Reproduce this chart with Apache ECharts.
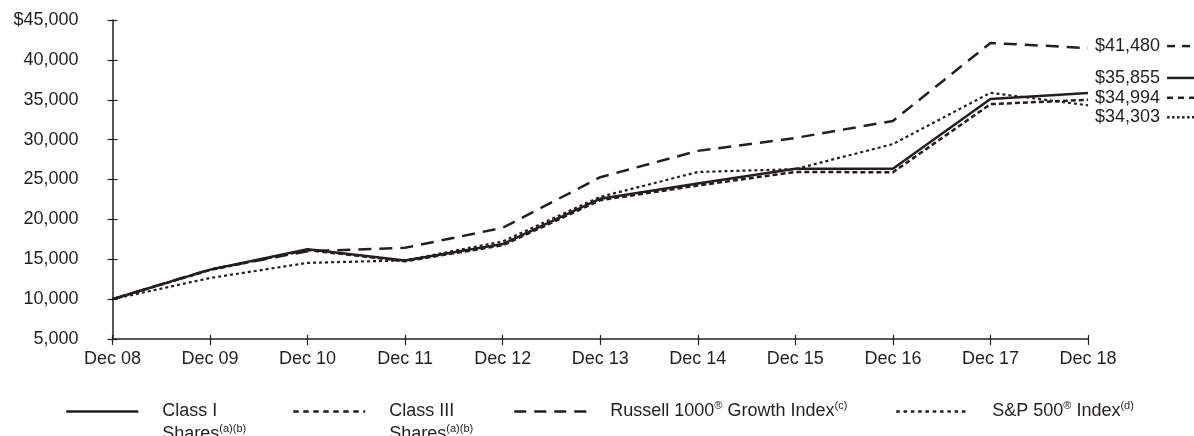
<!DOCTYPE html>
<html>
<head>
<meta charset="utf-8">
<script src="https://cdn.jsdelivr.net/npm/echarts@6/dist/echarts.min.js"></script>
<style>
  html, body { margin: 0; padding: 0; background: #fff; }
  #chart { width: 1194px; height: 436px; }
</style>
</head>
<body>
<div id="chart"></div>
<script>
var categories = ['Dec 08', 'Dec 09', 'Dec 10', 'Dec 11', 'Dec 12', 'Dec 13', 'Dec 14', 'Dec 15', 'Dec 16', 'Dec 17', 'Dec 18'];
var classI = [10000, 13700, 16250, 14850, 16900, 22600, 24500, 26350, 26350, 35100, 35855];
var classIII = [10000, 13650, 16150, 14750, 16750, 22400, 24250, 25950, 25900, 34450, 34994];
var russell = [10000, 13721, 16014, 16437, 18945, 25288, 28588, 30209, 32348, 42120, 41480];
var sp500 = [10000, 12646, 14550, 14857, 17235, 22818, 25941, 26299, 29444, 35872, 34303];
var yTicks = [5000, 10000, 15000, 20000, 25000, 30000, 35000, 40000, 45000];
var seriesNames = ['Class I Shares', 'Class III Shares', 'Russell 1000 Growth Index', 'S&P 500 Index'];

var INK = '#231f20';
var FONT = "'Liberation Sans', Arial, sans-serif";

function fmtMoney(v) {
  return '$' + v.toLocaleString('en-US');
}
function pattern(dash, gap, count) {
  var s = '';
  for (var i = 0; i < count; i++) {
    s += '{' + dash + '|}';
    if (i < count - 1) s += '{' + gap + '|}';
  }
  return s;
}
var endRich = {
  t: { fontSize: 18, fontFamily: FONT, color: INK },
  s: { width: 7, height: 2 },
  bar: { width: 27, height: 2.5, backgroundColor: INK },
  ld: { width: 8, height: 2.5, backgroundColor: INK },
  lg: { width: 7, height: 2.5 },
  sd: { width: 6, height: 2.5, backgroundColor: INK },
  sg: { width: 5, height: 2.5 },
  dd: { width: 2.5, height: 2.5, backgroundColor: INK },
  dg: { width: 2.5, height: 2.5 }
};
function endLabel(last, pat, dy) {
  return {
    show: true,
    distance: 7,
    offset: [0, dy],
    formatter: '{t|' + fmtMoney(last) + '}{s|}' + pat,
    rich: endRich
  };
}

var legendRich = {
  sup: { fontSize: 11, fontFamily: FONT, color: INK, verticalAlign: 'top', lineHeight: 12 }
};
function makeLegend(name, left, top, fmt, lineStyle, twoLine) {
  return {
    show: true,
    left: left,
    top: top,
    padding: 0,
    data: [{ name: name, lineStyle: lineStyle }],
    itemWidth: 72,
    itemHeight: 14,
    itemStyle: { color: 'rgba(0,0,0,0)', borderWidth: 0, opacity: 0 },
    selectedMode: false,
    formatter: function () { return fmt; },
    textStyle: {
      fontSize: 18,
      fontFamily: FONT,
      color: INK,
      lineHeight: 23,
      padding: twoLine ? [23, 0, 0, 19] : [0, 0, 0, 19],
      rich: legendRich
    }
  };
}

var chart = echarts.init(document.getElementById('chart'), null, { renderer: 'canvas' });
var option = {
  animation: false,
  backgroundColor: '#ffffff',
  textStyle: { fontFamily: FONT },
  grid: { left: 112.5, right: 106, top: 20, bottom: 97, containLabel: false },
  legend: [
    makeLegend(seriesNames[0], 65, 377, 'Class I\nShares{sup|(a)(b)}', { color: INK, width: 2.5, type: 'solid' }, true),
    makeLegend(seriesNames[1], 292, 377, 'Class III\nShares{sup|(a)(b)}', { color: INK, width: 2.5, type: [5.5, 4.5] }, true),
    makeLegend(seriesNames[2], 513, 400, 'Russell 1000{sup|®} Growth Index{sup|(c)}', { color: INK, width: 2.5, type: [12, 8] }, false),
    makeLegend(seriesNames[3], 895, 400, 'S&P 500{sup|®} Index{sup|(d)}', { color: INK, width: 2.5, type: [3.5, 3.8] }, false)
  ],
  xAxis: [
    {
      type: 'category',
      data: categories,
      boundaryGap: false,
      axisLine: { show: true, lineStyle: { color: INK, width: 1.5 } },
      axisTick: { show: true, inside: false, length: 6, alignWithLabel: true, lineStyle: { color: INK, width: 1.2 } },
      axisLabel: { color: INK, fontSize: 18, fontFamily: FONT, margin: 11, interval: 0 },
      splitLine: { show: false }
    },
    {
      type: 'category',
      data: categories,
      boundaryGap: false,
      position: 'bottom',
      axisLine: { show: false },
      axisTick: { show: true, inside: true, length: 4, lineStyle: { color: INK, width: 1.2 } },
      axisLabel: { show: false },
      splitLine: { show: false }
    }
  ],
  yAxis: [
    {
      type: 'value',
      min: 5000,
      max: 45000,
      interval: 5000,
      axisLine: { show: true, lineStyle: { color: INK, width: 1.5 } },
      axisTick: { show: true, inside: false, length: 5, lineStyle: { color: INK, width: 1.2 } },
      axisLabel: {
        color: INK, fontSize: 18, fontFamily: FONT, margin: 34,
        formatter: function (v) { return v === yTicks[yTicks.length - 1] ? fmtMoney(v) : v.toLocaleString('en-US'); }
      },
      splitLine: { show: false }
    },
    {
      type: 'value',
      min: 5000,
      max: 45000,
      interval: 5000,
      position: 'left',
      axisLine: { show: false },
      axisTick: { show: true, inside: true, length: 5, lineStyle: { color: INK, width: 1.2 } },
      axisLabel: { show: false },
      splitLine: { show: false }
    }
  ],
  series: [
    {
      name: seriesNames[0], type: 'line', data: classI, symbol: 'none', z: 4,
      itemStyle: { color: INK },
      lineStyle: { color: INK, width: 2.5, type: 'solid' },
      endLabel: endLabel(classI[classI.length - 1], '{bar|}', -15)
    },
    {
      name: seriesNames[1], type: 'line', data: classIII, symbol: 'none', z: 3,
      itemStyle: { color: INK },
      lineStyle: { color: INK, width: 2.5, type: [5, 3] },
      endLabel: endLabel(classIII[classIII.length - 1], pattern('sd', 'sg', 3), -2)
    },
    {
      name: seriesNames[2], type: 'line', data: russell, symbol: 'none', z: 3,
      itemStyle: { color: INK },
      lineStyle: { color: INK, width: 2.5, type: [13, 8] },
      endLabel: endLabel(russell[russell.length - 1], pattern('ld', 'lg', 2), -2)
    },
    {
      name: seriesNames[3], type: 'line', data: sp500, symbol: 'none', z: 3,
      itemStyle: { color: INK },
      lineStyle: { color: INK, width: 2.2, type: [3, 3] },
      endLabel: endLabel(sp500[sp500.length - 1], pattern('dd', 'dg', 6), 12)
    }
  ]
};
chart.setOption(option);
</script>
</body>
</html>
